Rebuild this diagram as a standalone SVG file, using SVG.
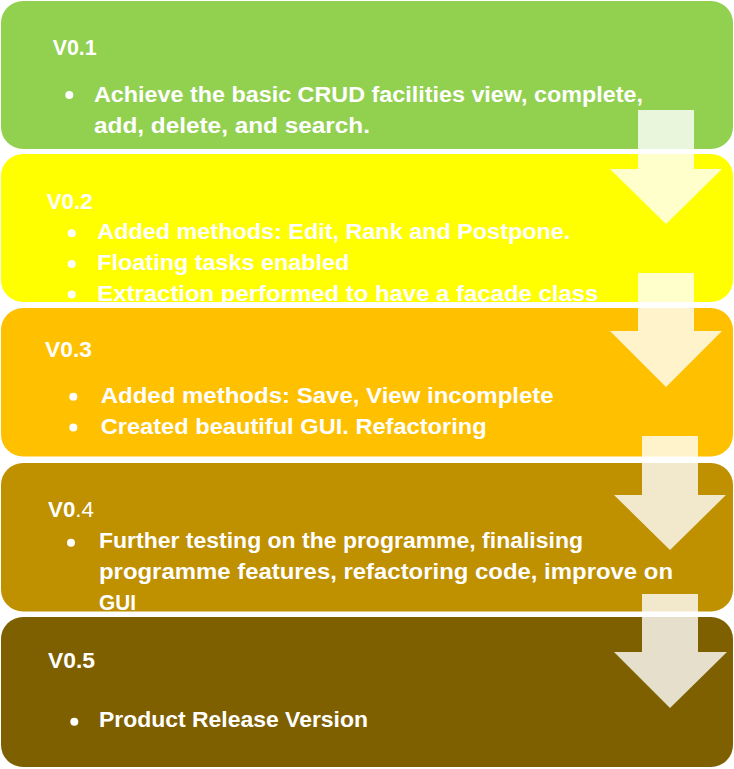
<svg xmlns="http://www.w3.org/2000/svg" width="734" height="769" viewBox="0 0 734 769">
  <style>
    .box { stroke: none; }
    .hdr { font-family: "Liberation Sans", Arial, sans-serif; font-weight: bold; font-size: 22px; fill: #ffffff; }
    .txt { font-family: "Liberation Sans", Arial, sans-serif; font-weight: bold; font-size: 22px; fill: #ffffff; }
    .thin { font-weight: normal; }
    .dot { fill: #ffffff; }
    .arrow { fill: #ffffff; fill-opacity: 0.8; }
  </style>
  <rect x="0" y="0" width="734" height="769" fill="#ffffff"/>

  <g id="v01">
    <rect class="box" x="1" y="1" width="732" height="148" rx="22" fill="#92D050"/>
    <text class="hdr" x="52.7" y="55" textLength="44" lengthAdjust="spacingAndGlyphs">V0.1</text>
    <circle class="dot" cx="69.3" cy="95" r="4"/>
    <text class="txt" x="94" y="102" textLength="549" lengthAdjust="spacingAndGlyphs">Achieve the basic CRUD facilities view, complete,</text>
    <text class="txt" x="94" y="133" textLength="276" lengthAdjust="spacingAndGlyphs">add, delete, and search.</text>
  </g>

  <g id="v02">
    <rect class="box" x="1" y="154" width="732" height="148" rx="22" fill="#FFFF00"/>
    <text class="hdr" x="46.7" y="209" textLength="46" lengthAdjust="spacingAndGlyphs">V0.2</text>
    <circle class="dot" cx="71.7" cy="233.3" r="4"/>
    <circle class="dot" cx="71.7" cy="264" r="4"/>
    <circle class="dot" cx="71.7" cy="294.5" r="4"/>
    <text class="txt" x="97.3" y="239.3" textLength="473" lengthAdjust="spacingAndGlyphs">Added methods: Edit, Rank and Postpone.</text>
    <text class="txt" x="97.3" y="270" textLength="252" lengthAdjust="spacingAndGlyphs">Floating tasks enabled</text>
    <text class="txt" x="97.3" y="300.5" textLength="501" lengthAdjust="spacingAndGlyphs">Extraction performed to have a façade class</text>
  </g>

  <g id="v03">
    <rect class="box" x="1" y="308" width="732" height="148.5" rx="22" fill="#FFC000"/>
    <text class="hdr" x="45" y="356.7" textLength="47" lengthAdjust="spacingAndGlyphs">V0.3</text>
    <circle class="dot" cx="73.3" cy="396.7" r="4"/>
    <circle class="dot" cx="73.3" cy="427.5" r="4"/>
    <text class="txt" x="100.7" y="402.7" textLength="453" lengthAdjust="spacingAndGlyphs">Added methods: Save, View incomplete</text>
    <text class="txt" x="100.7" y="433.5" textLength="386" lengthAdjust="spacingAndGlyphs">Created beautiful GUI. Refactoring</text>
  </g>

  <g id="v04">
    <rect class="box" x="1" y="463" width="732" height="148.5" rx="22" fill="#BF9000"/>
    <text class="hdr" x="48" y="516.7" textLength="46" lengthAdjust="spacingAndGlyphs">V0<tspan class="thin">.4</tspan></text>
    <circle class="dot" cx="71" cy="542.7" r="4"/>
    <text class="txt" x="99" y="548.3" textLength="484" lengthAdjust="spacingAndGlyphs">Further testing on the programme, finalising</text>
    <text class="txt" x="99" y="579" textLength="574" lengthAdjust="spacingAndGlyphs">programme features, refactoring code, improve on</text>
    <text class="txt" x="99" y="609.5" textLength="37" lengthAdjust="spacingAndGlyphs">GUI</text>
  </g>

  <g id="v05">
    <rect class="box" x="1" y="617" width="732" height="150" rx="22" fill="#7F6000"/>
    <text class="hdr" x="48" y="668.3" textLength="47" lengthAdjust="spacingAndGlyphs">V0.5</text>
    <circle class="dot" cx="74.3" cy="721.7" r="4"/>
    <text class="txt" x="99" y="727.3" textLength="269" lengthAdjust="spacingAndGlyphs">Product Release Version</text>
  </g>

  <!-- down arrows linking each version to the next -->
  <g id="connectors">
    <polygon class="arrow" points="638,110 694,110 694,169 722,169 666,224 610,169 638,169"/>
    <polygon class="arrow" points="638,273 694,273 694,331 722,331 666,387 610,331 638,331"/>
    <polygon class="arrow" points="642,436 698,436 698,495 726,495 670,550 614,495 642,495"/>
    <polygon class="arrow" points="642,594 698,594 698,652 727,652 670,708 614,652 642,652"/>
  </g>
</svg>
